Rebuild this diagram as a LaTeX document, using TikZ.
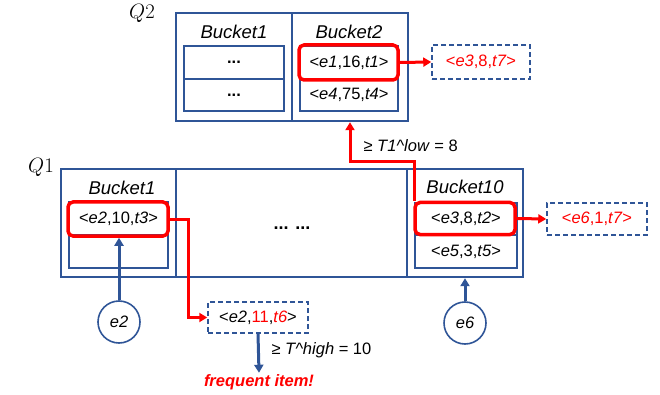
\documentclass[tikz,border=0pt]{standalone}
\usepackage[no-math]{fontspec}
\setmainfont{Liberation Sans}
\usetikzlibrary{arrows.meta}
\definecolor{qblue}{HTML}{2F5597}
\definecolor{qred}{HTML}{FF0000}
\newcommand{\cellfont}{\fontsize{16.5}{19}\selectfont}
\newcommand{\bucketfont}{\fontsize{18.5}{21}\selectfont\itshape}
\begin{document}
\begin{tikzpicture}[x=1pt,y=-1pt,
  outerbox/.style={rectangle,draw=qblue,line width=2.4pt,inner sep=0pt},
  divider/.style={draw=qblue,line width=2.4pt},
  cell/.style={rectangle,draw=qblue,line width=1.5pt,inner sep=0pt,font=\cellfont},
  hit/.style={rectangle,draw=qred,line width=3.5pt,rounded corners=5pt,inner sep=0pt},
  dbox/.style={rectangle,draw=qblue,line width=1.5pt,dash pattern=on 5pt off 3pt,inner sep=0pt,font=\cellfont},
  item/.style={circle,draw=qblue,line width=1.6pt,minimum size=42pt,inner sep=0pt,font=\cellfont\itshape},
  bucket/.style={font=\bucketfont},
  qlabel/.style={font=\fontsize{20}{20}\selectfont},
  redarrow/.style={draw=qred,line width=3pt,-{Triangle[length=8pt,width=9pt]}},
  bluearrow/.style={draw=qblue,line width=3pt,-{Triangle[length=8pt,width=9pt]}},
  note/.style={font=\cellfont},
]
\useasboundingbox (0,0) rectangle (660,395);

% ---------- Q2 ----------
\node[qlabel] (q2lbl) at (142,13) {$Q2$};
\node[outerbox,minimum width=232pt,minimum height=108pt] (q2box) at (292,67) {};
\draw[divider] (292,13) -- (292,121);
\node[bucket] (q2b1) at (234,32) {Bucket1};
\node[bucket] (q2b2) at (349,32) {Bucket2};
\node[cell,minimum width=100pt,minimum height=33pt] (c21a) at (234,62.5) {\textbf{...}};
\node[cell,minimum width=100pt,minimum height=32pt] (c21b) at (234,95) {\textbf{...}};
\node[cell,minimum width=98pt,minimum height=33pt] (c22a) at (349,62.5) {<\textit{e1},16,\textit{t1}>};
\node[cell,minimum width=98pt,minimum height=32pt] (c22b) at (349,95) {<\textit{e4},75,\textit{t4}>};
\node[hit,minimum width=99pt,minimum height=35pt] (r22) at (348.5,62.5) {};
\node[dbox,minimum width=98pt,minimum height=34pt,text=qred] (d2) at (481,62) {<\textit{e3},8,\textit{t7}>};
\draw[redarrow] (r22.east) -- (d2.west);

% ---------- Q1 ----------
\node[qlabel] (q1lbl) at (41,167) {$Q1$};
\node[outerbox,minimum width=462pt,minimum height=108pt] (q1box) at (292,223) {};
\draw[divider] (176,169) -- (176,277);
\draw[divider] (407,169) -- (407,277);
\node[bucket] (q1b1) at (122,188) {Bucket1};
\node[bucket] (q1b10) at (465,187) {Bucket10};
\node[font=\fontsize{18}{20}\selectfont\bfseries] (dots) at (292,228) {... ...};

\node[cell,minimum width=99pt,minimum height=33pt] (c11a) at (118.5,218.5) {<\textit{e2},10,\textit{t3}>};
\node[cell,minimum width=99pt,minimum height=33pt] (c11b) at (118.5,251.5) {};
\node[hit,minimum width=100pt,minimum height=34pt] (r11) at (118,219) {};

\node[cell,minimum width=102pt,minimum height=32pt] (c110a) at (466,219) {<\textit{e3},8,\textit{t2}>};
\node[cell,minimum width=102pt,minimum height=33pt] (c110b) at (466,251.5) {<\textit{e5},3,\textit{t5}>};
\node[hit,minimum width=100pt,minimum height=32pt] (r110) at (465,218.5) {};
\node[dbox,minimum width=100pt,minimum height=32pt,text=qred] (d1) at (597,219) {<\textit{e6},1,\textit{t7}>};
\draw[redarrow] (r110.east) -- (d1.west);

% promotion from Q1 to Q2
\coordinate (bend) at (350,162);
\draw[redarrow] ([xshift=1pt]r110.north west) |- (bend) -- (bend |- q2box.south);
\node[note,anchor=west] (lowlbl) at (360,146) {≥ \textit{T1\textasciicircum low} = 8};

% incoming items
\node[item] (e2) at (119,322) {e2};
\node[item] (e6) at (465,323) {e6};
\draw[bluearrow] (e2.north) -- (e2.north |- r11.south);
\draw[bluearrow] (e6.north) -- (e6.north |- q1box.south);

% updated record and frequent-item check
\node[dbox,minimum width=100pt,minimum height=31pt] (d3) at (258,317.5) {<\textit{e2},\textcolor{qred}{11},\textcolor{qred}{\textit{t6}}>};
\draw[redarrow] (r11.east) -- ++(19,0) |- (d3.west);
\node[font=\fontsize{16.5}{18}\selectfont\bfseries\itshape,text=qred] (freq) at (259,382) {frequent item!};
\draw[bluearrow] (d3.south) -- ([yshift=-2pt]freq.north);
\node[note,anchor=west] (highlbl) at (268,350) {≥ \textit{T\textasciicircum high} = 10};
\end{tikzpicture}
\end{document}
